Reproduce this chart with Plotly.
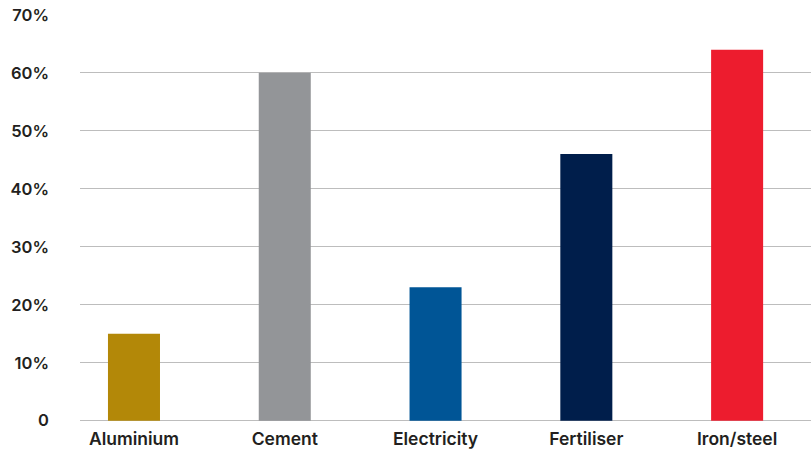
import plotly.graph_objects as go

# Share of emissions by sector
sectors = ["Aluminium", "Cement", "Electricity", "Fertiliser", "Iron/steel"]
shares = [15, 60, 23, 46, 64]
bar_colors = ["#B38808", "#939598", "#005596", "#001E4B", "#ED1C2E"]

y_ticks = [0, 10, 20, 30, 40, 50, 60, 70]
y_tick_text = ["0", "10%", "20%", "30%", "40%", "50%", "60%", "70%"]

font_family = "Inter, Lato, sans-serif"
text_color = "#231F20"
grid_color = "#BDBDBD"

fig = go.Figure(
    go.Bar(
        x=sectors,
        y=shares,
        marker=dict(color=bar_colors, line=dict(width=0)),
        width=0.345,
        hoverinfo="skip",
    )
)

fig.update_layout(
    width=811,
    height=454,
    margin=dict(l=80, r=0, t=14, b=33),
    paper_bgcolor="white",
    plot_bgcolor="white",
    showlegend=False,
    font=dict(family=font_family, color=text_color, size=16),
)

fig.update_xaxes(
    type="category",
    range=[-0.358, 4.49],
    showgrid=False,
    showline=False,
    zeroline=False,
    ticks="",
    ticklabelstandoff=5,
    tickfont=dict(family=font_family, size=17.5, color=text_color, weight=600),
)

fig.update_yaxes(
    range=[-0.05, 70.15],
    tickvals=y_ticks,
    ticktext=y_tick_text,
    showgrid=True,
    gridcolor=grid_color,
    gridwidth=1,
    zeroline=True,
    zerolinecolor=grid_color,
    zerolinewidth=1,
    showline=False,
    ticks="",
    ticklabelstandoff=30,
    tickfont=dict(family=font_family, size=16.5, color=text_color, weight=600),
)

fig.update_traces(selector=dict(type="bar"))
fig.layout.yaxis.layer = "below traces"

fig.write_html("out.html")
